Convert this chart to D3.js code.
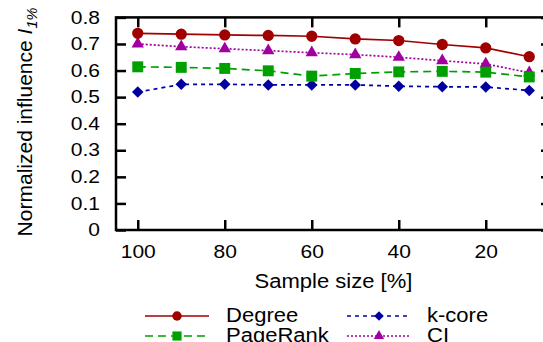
<!DOCTYPE html>
<html>
<head>
<meta charset="utf-8">
<script src="https://cdn.jsdelivr.net/npm/d3@7"></script>
<style>
  body { margin: 0; background: #fff; }
  svg text { font-family: "Liberation Sans", Arial, sans-serif; fill: #000; }
  .stretch { transform-box: fill-box; transform: scaleX(1.2); }
  .mid { transform-origin: center; }
  .right { transform-origin: right center; }
  .left { transform-origin: left center; }
</style>
</head>
<body>
<div id="chart"></div>
<script>
// values
const sampleSizes = [100, 90, 80, 70, 60, 50, 40, 30, 20, 10];
const degree   = [0.740, 0.737, 0.734, 0.732, 0.729, 0.719, 0.713, 0.698, 0.685, 0.652];
const pagerank = [0.614, 0.612, 0.608, 0.599, 0.579, 0.589, 0.595, 0.597, 0.594, 0.576];
const kcore    = [0.519, 0.548, 0.548, 0.546, 0.546, 0.546, 0.541, 0.539, 0.538, 0.525];
const ci       = [0.700, 0.690, 0.682, 0.675, 0.667, 0.660, 0.650, 0.637, 0.625, 0.592];

const xTicks = [100, 80, 60, 40, 20];
const yTicks = [0, 0.1, 0.2, 0.3, 0.4, 0.5, 0.6, 0.7, 0.8];

const series = [
  {name: "Degree",   values: degree,   color: "#a00000", dash: null,  symbol: "circle"},
  {name: "PageRank", values: pagerank, color: "#00a000", dash: "8,5", symbol: "square"},
  {name: "k-core",   values: kcore,    color: "#0000a0", dash: "4,4", symbol: "diamond"},
  {name: "CI",       values: ci,       color: "#a000a0", dash: "2,2", symbol: "triangle"}
];

const width = 543, height = 342;
const margin = {top: 17.4, right: -8, bottom: 112, left: 116};

const svg = d3.select("#chart").append("svg")
  .attr("width", width)
  .attr("height", height);

const x = d3.scaleLinear()
  .domain([105, 5])
  .range([margin.left, width - margin.right]);

const y = d3.scaleLinear()
  .domain([0, 0.8])
  .range([height - margin.bottom, margin.top]);

const x0 = x.range()[0], x1 = x.range()[1];
const y0 = y.range()[0], y1 = y.range()[1];

// axes (ticks point inward, mirrored on the opposite sides)
const bottom = svg.append("g")
  .attr("transform", `translate(0,${y0})`)
  .call(d3.axisBottom(x).tickValues(xTicks).tickSize(-10).tickPadding(16));

svg.append("g")
  .attr("transform", `translate(0,${y1})`)
  .call(d3.axisTop(x).tickValues(xTicks).tickSize(-10).tickFormat(""));

const left = svg.append("g")
  .attr("transform", `translate(${x0},0)`)
  .call(d3.axisLeft(y).tickValues(yTicks).tickSize(-10).tickPadding(16)
    .tickFormat(d => d === 0 ? "0" : d3.format(".1f")(d)));

svg.append("g")
  .attr("transform", `translate(${x1},0)`)
  .call(d3.axisRight(y).tickValues(yTicks).tickSize(-10).tickFormat(""));

svg.selectAll(".domain").remove();
svg.selectAll(".tick line").attr("stroke", "#000").attr("stroke-width", 2.5);

bottom.selectAll("text")
  .attr("font-size", 17.5)
  .attr("class", "stretch mid");
left.selectAll("text")
  .attr("font-size", 17.5)
  .attr("class", "stretch right");

// frame
svg.append("rect")
  .attr("x", x0).attr("y", y1)
  .attr("width", x1 - x0).attr("height", y0 - y1)
  .attr("fill", "none")
  .attr("stroke", "#000")
  .attr("stroke-width", 2.5);

const symbolPath = (type, scale) => {
  if (type === "circle") return d3.symbol(d3.symbolCircle, 100 * scale)();
  if (type === "square") return d3.symbol(d3.symbolSquare, 120 * scale)();
  if (type === "diamond") return d3.symbol(d3.symbolSquare, 66 * scale)();
  return d3.symbol(d3.symbolTriangle, 66 * scale)();
};

const line = d3.line()
  .x((d, i) => x(sampleSizes[i]))
  .y(d => y(d));

// draw lines first, then markers
const plot = svg.append("g");
series.slice().reverse().forEach(s => {
  plot.append("path")
    .datum(s.values)
    .attr("fill", "none")
    .attr("stroke", s.color)
    .attr("stroke-width", 1.7)
    .attr("stroke-dasharray", s.dash)
    .attr("d", line);
});

series.slice().reverse().forEach(s => {
  plot.append("g")
    .selectAll("path")
    .data(s.values)
    .join("path")
      .attr("d", symbolPath(s.symbol, 1))
      .attr("transform", (d, i) => `translate(${x(sampleSizes[i])},${y(d)})` + (s.symbol === "diamond" ? " rotate(45)" : ""))
      .attr("fill", s.color);
});

// axis titles
svg.append("text")
  .attr("x", (x0 + x1) / 2)
  .attr("y", 288)
  .attr("text-anchor", "middle")
  .attr("font-size", 19.5)
  .attr("class", "stretch mid")
  .style("transform", "scaleX(1.13)")
  .text("Sample size [%]");

const yLabel = svg.append("text")
  .attr("transform", `translate(32,122) rotate(-90)`)
  .attr("text-anchor", "middle")
  .attr("font-size", 21);
yLabel.append("tspan").text("Normalized influence ");
yLabel.append("tspan").attr("font-style", "italic").text("I");
yLabel.append("tspan").attr("font-size", 14.5).attr("font-style", "italic").attr("dy", 5).text("1%");

// legend
const legendPos = [
  {lx: 145, tx: 226, y: 316},
  {lx: 145, tx: 226, y: 336},
  {lx: 347, tx: 427, y: 316},
  {lx: 347, tx: 427, y: 336}
];

series.forEach((s, i) => {
  const p = legendPos[i];
  const g = svg.append("g");
  g.append("line")
    .attr("x1", p.lx).attr("x2", p.lx + 64)
    .attr("y1", p.y).attr("y2", p.y)
    .attr("stroke", s.color)
    .attr("stroke-width", 1.6)
    .attr("stroke-dasharray", s.dash);
  g.append("path")
    .attr("d", symbolPath(s.symbol, 0.7))
    .attr("transform", `translate(${p.lx + 32},${p.y})` + (s.symbol === "diamond" ? " rotate(45)" : ""))
    .attr("fill", s.color);
  g.append("text")
    .attr("x", p.tx)
    .attr("y", p.y + 6.5)
    .attr("font-size", 19.5)
    .attr("class", "stretch left")
    .style("transform", "scaleX(1.13)")
    .text(s.name);
});
</script>
</body>
</html>
